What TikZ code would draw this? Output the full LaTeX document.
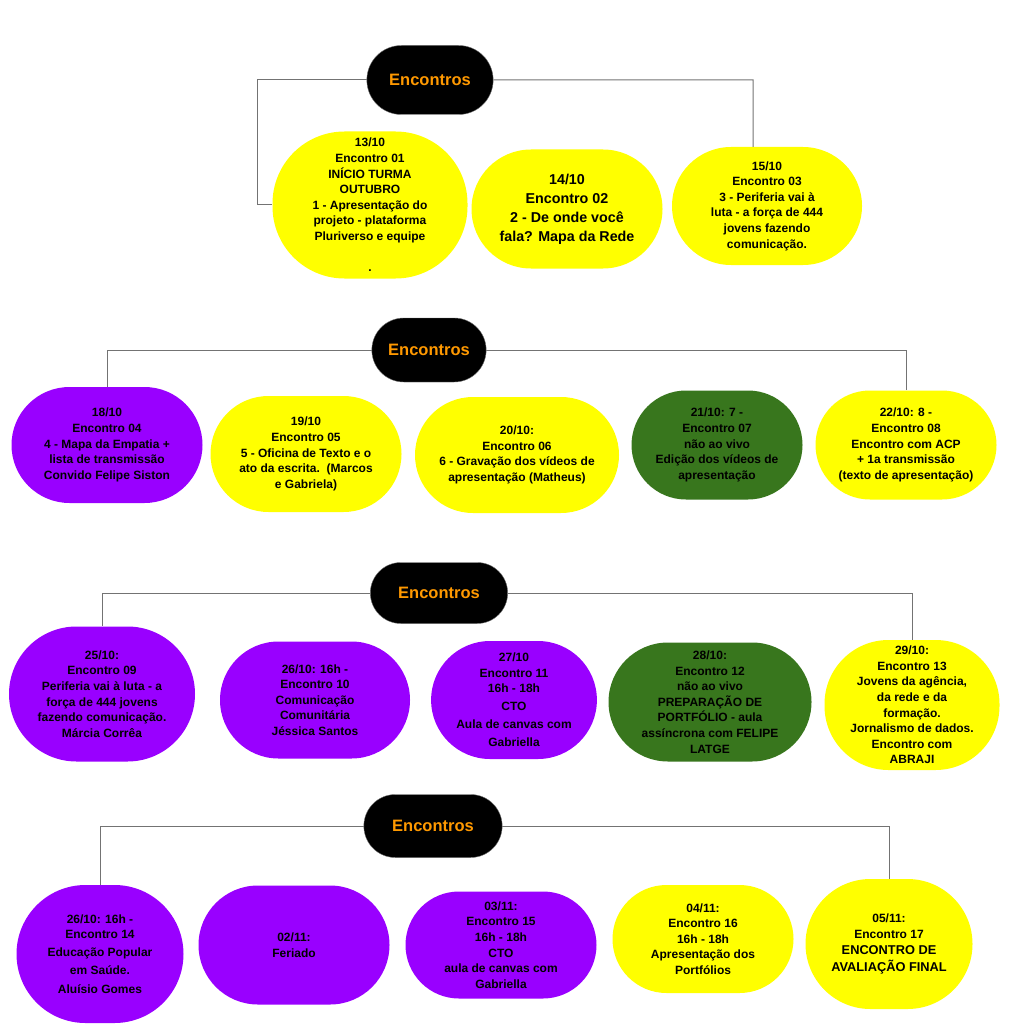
\documentclass[tikz,border=0pt]{standalone}
\usepackage{fontspec}
\setmainfont{Liberation Sans}
\usetikzlibrary{shapes.misc}
\definecolor{amarelo}{HTML}{FFFF00}
\definecolor{roxo}{HTML}{9900FF}
\definecolor{verde}{HTML}{38761D}
\definecolor{laranja}{HTML}{FF9900}

\begin{document}
\begin{tikzpicture}[x=1pt,y=-1pt,font=\bfseries\fontsize{12}{15.6}\selectfont,
 e/.style={rounded rectangle,align=center,inner sep=2pt,text=black},
 am/.style={e,fill=amarelo},
 rx/.style={e,fill=roxo},
 vd/.style={e,fill=verde},
 oval/.style={rectangle,rounded corners=#1,inner sep=0pt},
 h/.style={rounded rectangle,fill=black,draw=black!55,text=laranja,font=\bfseries\fontsize{16.5}{20}\selectfont},
 ln/.style={draw=black!55,line width=1pt}]
\useasboundingbox (0,0) rectangle (1009,1024);
% 1a linha
\node[h,minimum width=133,minimum height=69](h1) at (430,80){Encontros};
\node[am,oval=72,minimum width=195,minimum height=147](n1) at (370,205){13/10\\Encontro 01\\INÍCIO TURMA\\OUTUBRO\\1 - Apresentação do\\projeto - plataforma\\Pluriverso e equipe\\[15.6pt].};
\node[am,minimum width=195,minimum height=119,font=\bfseries\fontsize{14.3}{19}\selectfont](n2) at (567,209){14/10\\Encontro 02\\2 - De onde você\\fala? Mapa da Rede};
\node[am,minimum width=194,minimum height=118](n3) at (767,206){15/10\\Encontro 03\\3 - Periferia vai à\\luta - a força de 444\\jovens fazendo\\comunicação.};
\coordinate (k1) at (257,80);\coordinate (k2) at (753,80);
\draw[ln](h1)--(k1)|-(n1);\draw[ln](h1)--(k2)--(k2|-n3.north);
% 2a linha
\node[h,minimum width=121,minimum height=64](h2) at (429,350){Encontros};
\node[rx,minimum width=195,minimum height=116](n4) at (107,445){18/10\\Encontro 04\\4 - Mapa da Empatia +\\lista de transmissão\\Convido Felipe Siston};
\node[am,minimum width=195,minimum height=116](n5) at (306,454){19/10\\Encontro 05\\5 - Oficina de Texto e o\\ato da escrita.~~(Marcos\\e Gabriela)};
\node[am,minimum width=208,minimum height=116](n6) at (517,455){20/10:\\Encontro 06\\6 - Gravação dos vídeos de\\apresentação (Matheus)};
\node[vd,minimum width=175,minimum height=109](n7) at (717,445){21/10: 7 -\\Encontro 07\\não ao vivo\\Edição dos vídeos de\\apresentação};
\node[am,minimum width=185,minimum height=109](n8) at (906,445){22/10: 8 -\\Encontro 08\\Encontro com ACP\\+ 1a transmissão\\(texto de apresentação)};
\draw[ln](h2)-|(n4);\draw[ln](h2)-|(n8);
% 3a linha
\node[h,minimum width=144,minimum height=61](h3) at (439,593){Encontros};
\node[rx,minimum width=190,minimum height=135](n9) at (102,694){25/10:\\Encontro 09\\Periferia vai à luta - a\\força de 444 jovens\\fazendo comunicação.\\Márcia Corrêa};
\node[rx,minimum width=194,minimum height=117](n10) at (315,700){26/10: 16h -\\Encontro 10\\Comunicação\\Comunitária\\Jéssica Santos};
\node[rx,minimum width=165,minimum height=118](n11) at (514,700){27/10\\Encontro 11\\16h - 18h\\[2pt]CTO\\[2pt]Aula de canvas com\\[3pt]Gabriella};
\node[vd,minimum width=207,minimum height=119](n12) at (710,702){28/10:\\Encontro 12\\não ao vivo\\PREPARAÇÃO DE\\PORTFÓLIO - aula\\assíncrona com FELIPE\\LATGE};
\node[am,oval=64,minimum width=175,minimum height=130](n13) at (912,705){29/10:\\Encontro 13\\Jovens da agência,\\da rede e da\\formação.\\Jornalismo de dados.\\Encontro com\\ABRAJI};
\draw[ln](h3)-|(n9);\draw[ln](h3)-|(n13);
% 4a linha
\node[h,minimum width=145,minimum height=63](h4) at (433,826){Encontros};
\node[rx,minimum width=171,minimum height=138](n14) at (100,954){26/10: 16h -\\Encontro 14\\[2pt]Educação Popular\\[3pt]em Saúde.\\[3pt]Aluísio Gomes};
\node[rx,minimum width=195,minimum height=119](n15) at (294,945){02/11:\\Feriado};
\node[rx,minimum width=195,minimum height=107](n16) at (501,945){03/11:\\Encontro 15\\16h - 18h\\CTO\\aula de canvas com\\Gabriella};
\node[am,minimum width=185,minimum height=108](n17) at (703,939){04/11:\\Encontro 16\\16h - 18h\\Apresentação dos\\Portfólios};
\node[am,minimum width=171,minimum height=130](n18) at (889,944){05/11:\\Encontro 17\\[1pt]{\fontsize{12.8}{16.5}\selectfont ENCONTRO DE}\\[1pt]{\fontsize{12.8}{16.5}\selectfont AVALIAÇÃO FINAL}};
\draw[ln](h4)-|(n14);\draw[ln](h4)-|(n18);
\end{tikzpicture}
\end{document}
